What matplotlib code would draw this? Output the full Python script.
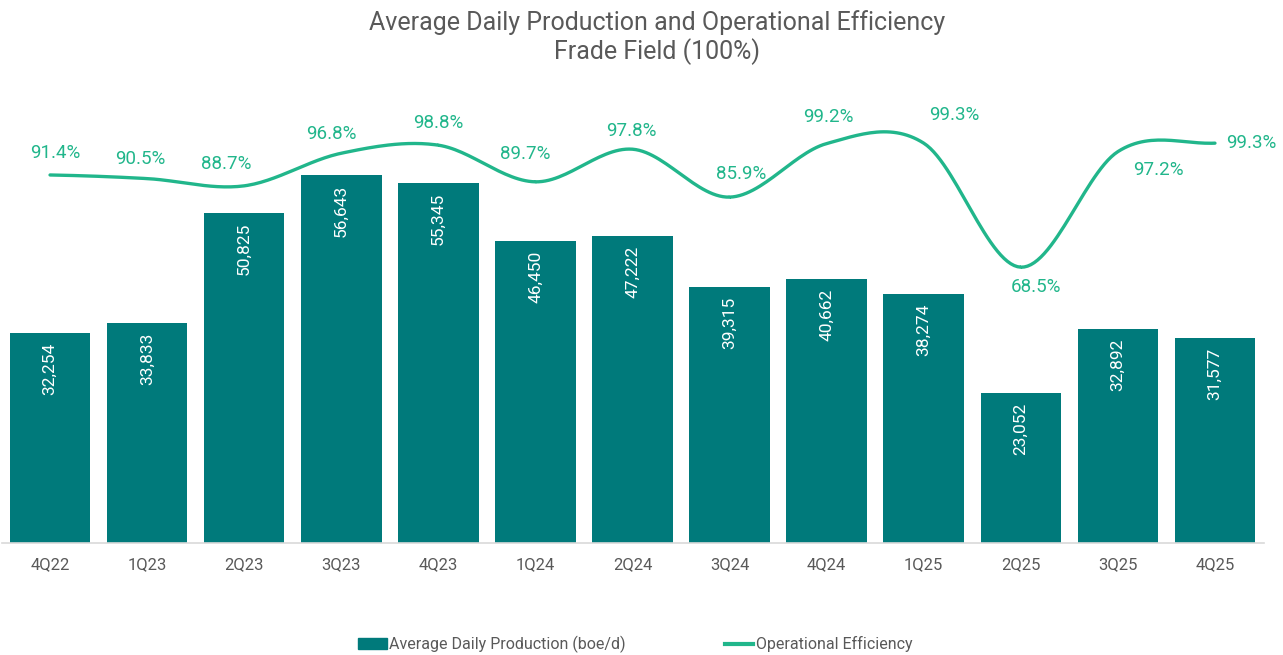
import numpy as np
import matplotlib.pyplot as plt
from matplotlib.lines import Line2D
from matplotlib.patches import Patch

quarters = ["4Q22", "1Q23", "2Q23", "3Q23", "4Q23", "1Q24", "2Q24",
            "3Q24", "4Q24", "1Q25", "2Q25", "3Q25", "4Q25"]
production = [32254, 33833, 50825, 56643, 55345, 46450, 47222,
              39315, 40662, 38274, 23052, 32892, 31577]
efficiency = [91.4, 90.5, 88.7, 96.8, 98.8, 89.7, 97.8,
              85.9, 99.2, 99.3, 68.5, 97.2, 99.3]

BAR = "#007A7B"
LINE = "#21B68B"
GREY = "#595959"
FONT = ["Roboto", "DejaVu Sans"]

# label offsets (points) for the efficiency labels, like the original layout
lbl_off = [(4, 16), (-5, 14), (-13, 16), (-7, 14), (0, 16), (-7, 20), (-1, 13),
           (8, 17), (1, 19), (22, 20), (11, -14), (29, -13), (8, 0)]


def smooth(x, y, n=30):
    # Catmull-Rom curve through the points (similar to a smoothed Excel line)
    x = np.asarray(x, float)
    y = np.asarray(y, float)
    px = np.concatenate([[2 * x[0] - x[1]], x, [2 * x[-1] - x[-2]]])
    py = np.concatenate([[y[0]], y, [y[-1]]])
    xs, ys = [], []
    t = np.linspace(0, 1, n)
    for i in range(1, len(px) - 2):
        for p, out in ((px, xs), (py, ys)):
            p0, p1, p2, p3 = p[i - 1], p[i], p[i + 1], p[i + 2]
            out.extend(0.5 * (2 * p1 + (-p0 + p2) * t
                              + (2 * p0 - 5 * p1 + 4 * p2 - p3) * t ** 2
                              + (-p0 + 3 * p1 - 3 * p2 + p3) * t ** 3))
    return xs, ys


plt.rcParams["font.family"] = FONT

fig = plt.figure(figsize=(12.83, 6.55), dpi=100)
ax = fig.add_axes([1.5 / 1283, 1 - 543 / 655, 1262 / 1283, 455 / 655])
x = np.arange(len(quarters))

bars = ax.bar(x, production, width=0.83, color=BAR, zorder=2)
for b, v in zip(bars, production):
    ax.annotate(f"{v:,}", (b.get_x() + b.get_width() / 2, v), xytext=(0, -7),
                textcoords="offset points", rotation=90, ha="center", va="top",
                color="white", fontsize=12.5)

ax.set_xlim(-0.5, len(quarters) - 0.5)
ax.set_ylim(0, 70000)
ax.set_yticks([])
ax.set_xticks(x)
ax.set_xticklabels(quarters, color=GREY, fontsize=12)
ax.tick_params(axis="x", length=0, pad=10)
for s in ["top", "right", "left"]:
    ax.spines[s].set_visible(False)
ax.spines["bottom"].set_color("#D9D9D9")
ax.spines["bottom"].set_linewidth(1.2)

ax2 = ax.twinx()
ax2.set_ylim(0, 113)
ax2.axis("off")
sx, sy = smooth(x, efficiency)
ax2.plot(sx, sy, color=LINE, linewidth=2.4, solid_capstyle="round", zorder=3)
for i, (xi, v, off) in enumerate(zip(x, efficiency, lbl_off)):
    ha = "left" if i == len(x) - 1 else "center"
    ax2.annotate(f"{v:.1f}%", (xi, v), xytext=off, textcoords="offset points",
                 ha=ha, va="center", color=LINE, fontsize=13.5)

fig.text(0.512, 0.966, "Average Daily Production and Operational Efficiency",
         ha="center", va="center", color=GREY, fontsize=18)
fig.text(0.512, 0.921, "Frade Field (100%)", ha="center", va="center",
         color=GREY, fontsize=18)

handles = [Patch(color=BAR), Line2D([0], [0], color=LINE, linewidth=3)]
fig.legend(handles, ["Average Daily Production (boe/d)", "Operational Efficiency"],
           loc="center", bbox_to_anchor=(0.495, 0.016), ncol=2, frameon=False,
           fontsize=11.5, labelcolor=GREY, handlelength=1.8, handletextpad=0.15,
           columnspacing=6.2)

fig.savefig("out.png", dpi=100)
